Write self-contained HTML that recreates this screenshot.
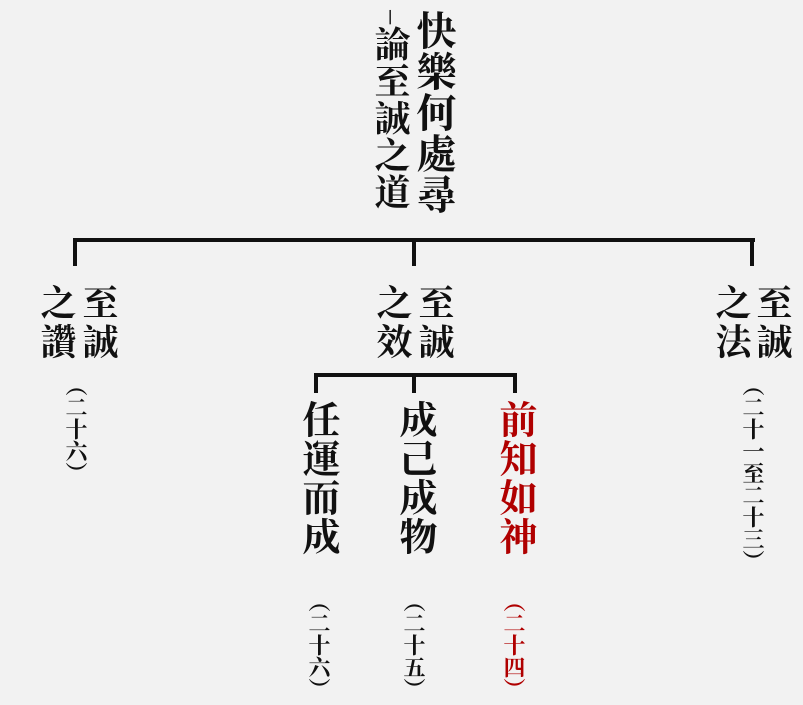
<!DOCTYPE html>
<html><head><meta charset="utf-8"><style>
body{margin:0;width:803px;height:705px;background:#f2f2f2;position:relative;overflow:hidden;font-family:"Liberation Serif","Noto Serif CJK SC",serif;font-weight:bold;color:#111}
.v{position:absolute;writing-mode:vertical-rl;line-height:1;white-space:nowrap}
.l{position:absolute;background:#111}
.r{color:#b00000}
.p{font-size:22px;font-weight:bold;line-height:1}
.h{font-size:36px;letter-spacing:3px}
</style></head><body>
<div class="v" style="left:413px;top:10px;font-size:40px;letter-spacing:1px">快樂何處尋</div>
<div class="v" style="left:372px;top:10px;font-size:36px;letter-spacing:1px"><span style="font-size:20px;font-weight:normal">─</span>論至誠之道</div>

<div class="l" style="left:73px;top:238px;width:682px;height:4px"></div>
<div class="l" style="left:73px;top:238px;width:4px;height:28px"></div>
<div class="l" style="left:412px;top:238px;width:4px;height:28px"></div>
<div class="l" style="left:750px;top:238px;width:4px;height:28px"></div>

<div class="v h" style="left:80px;top:284px">至誠</div>
<div class="v h" style="left:38px;top:284px">之讚</div>
<div class="v h" style="left:416px;top:284px">至誠</div>
<div class="v h" style="left:374px;top:284px">之效</div>
<div class="v h" style="left:754px;top:284px">至誠</div>
<div class="v h" style="left:713px;top:284px">之法</div>

<div class="v p" style="left:64px;top:374px">（二十六）</div>
<div class="v p" style="left:741px;top:374px">（二十一至二十三）</div>

<div class="l" style="left:314px;top:373px;width:203px;height:4px"></div>
<div class="l" style="left:314px;top:373px;width:4px;height:20px"></div>
<div class="l" style="left:412px;top:373px;width:4px;height:20px"></div>
<div class="l" style="left:513px;top:373px;width:4px;height:20px"></div>

<div class="v" style="left:298px;top:400px;font-size:38px;letter-spacing:1px">任運而成</div>
<div class="v" style="left:395px;top:400px;font-size:38px;letter-spacing:1px">成己成物</div>
<div class="v r" style="left:495px;top:400px;font-size:38px;letter-spacing:1px">前知如神</div>

<div class="v p" style="left:307px;top:590px">（二十六）</div>
<div class="v p" style="left:402px;top:590px">（二十五）</div>
<div class="v p r" style="left:502px;top:590px">（二十四）</div>
</body></html>
